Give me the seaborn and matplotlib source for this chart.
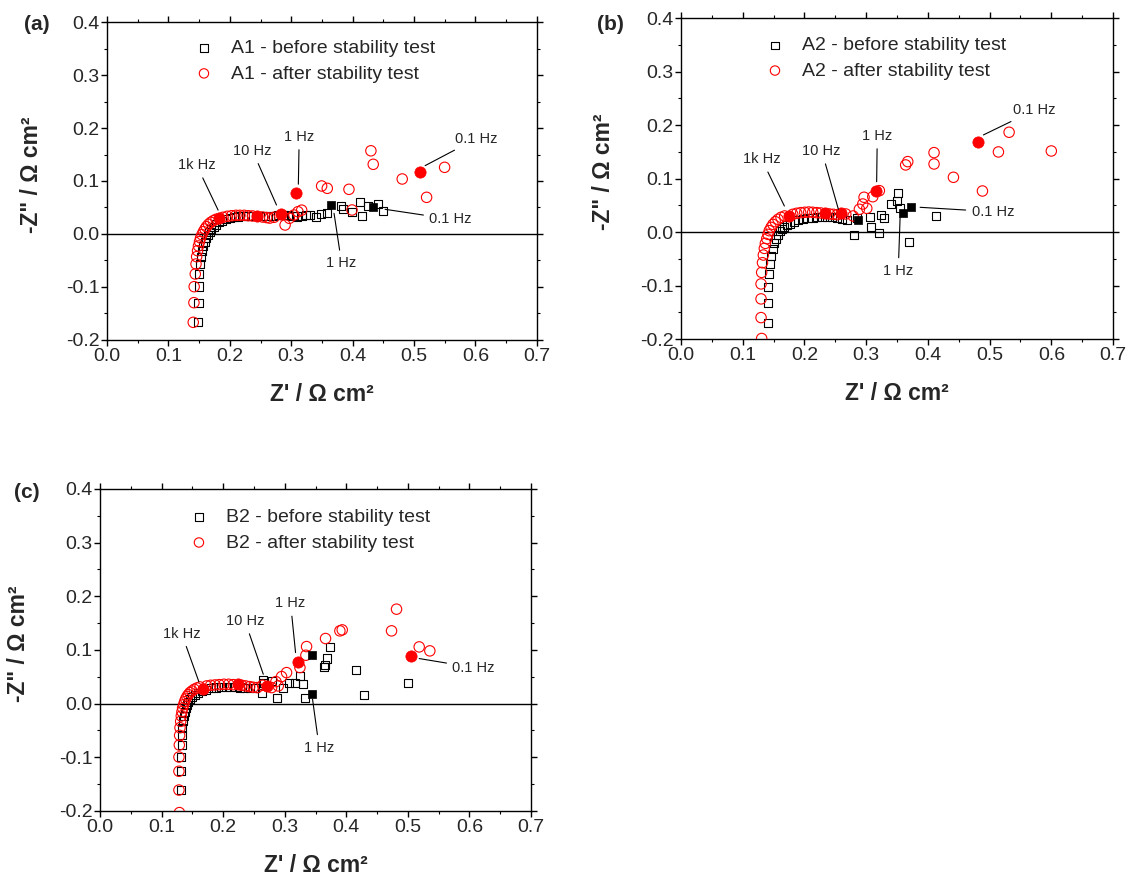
import numpy as np
import pandas as pd
import matplotlib
matplotlib.use("Agg")
import matplotlib.pyplot as plt
from matplotlib.ticker import MultipleLocator, FormatStrFormatter
import seaborn as sns

# ---------------- Impedance data (Z' and -Z'' in ohm cm2) ----------------
# Sample A1
a1_before_re = [0.1486, 0.1490, 0.1497, 0.1505, 0.1520, 0.1535, 0.1550, 0.1570, 0.1590, 0.1610,
                0.1640, 0.1670, 0.1700, 0.1740, 0.1780, 0.1830, 0.1880, 0.1940, 0.2000, 0.2070,
                0.2140, 0.2220, 0.2300, 0.2380, 0.2460, 0.2540, 0.2620, 0.2700, 0.2780, 0.2860,
                0.2940, 0.3020, 0.3100, 0.3180, 0.3234, 0.3300, 0.3397, 0.3484, 0.3587, 0.3810,
                0.3847, 0.3994, 0.4120, 0.4157, 0.4254, 0.4417, 0.4498]
a1_before_im = [-0.1667, -0.1300, -0.0990, -0.0755, -0.0570, -0.0430, -0.0320, -0.0230, -0.0150, -0.0080,
                -0.0020, 0.0040, 0.0090, 0.0140, 0.0180, 0.0220, 0.0250, 0.0280, 0.0300, 0.0320,
                0.0330, 0.0340, 0.0340, 0.0340, 0.0340, 0.0340, 0.0340, 0.0340, 0.0350, 0.0360,
                0.0360, 0.0340, 0.0330, 0.0340, 0.0358, 0.0358, 0.0315, 0.0377, 0.0402, 0.0528,
                0.0466, 0.0420, 0.0610, 0.0340, 0.0528, 0.0566, 0.0440]
a1_after_re = [0.1405, 0.1416, 0.1420, 0.1438, 0.1450, 0.1460, 0.1475, 0.1490, 0.1507, 0.1524,
               0.1546, 0.1570, 0.1595, 0.1620, 0.1654, 0.1690, 0.1730, 0.1775, 0.1890, 0.1960,
               0.2030, 0.2100, 0.2165, 0.2235, 0.2300, 0.2370, 0.2535, 0.2600, 0.2650, 0.2720,
               0.2900, 0.2970, 0.3044, 0.3110, 0.3170, 0.3495, 0.3587, 0.3940, 0.3990, 0.4297,
               0.4335, 0.4807, 0.5204, 0.5497]
a1_after_im = [-0.1667, -0.1296, -0.0994, -0.0755, -0.0566, -0.0428, -0.0315, -0.0226, -0.0145, -0.0075,
               -0.0013, 0.0044, 0.0094, 0.0138, 0.0183, 0.0220, 0.0250, 0.0277, 0.0315, 0.0334,
               0.0345, 0.0352, 0.0352, 0.0352, 0.0345, 0.0340, 0.0320, 0.0310, 0.0300, 0.0315,
               0.0170, 0.0296, 0.0358, 0.0420, 0.0450, 0.0906, 0.0862, 0.0843, 0.0453, 0.1570,
               0.1315, 0.1038, 0.0692, 0.1258]
# characteristic frequency points (filled symbols)
a1_before_mark_re = [0.3652, 0.4336]
a1_before_mark_im = [0.0553, 0.0516]
a1_after_mark_re = [0.1830, 0.2450, 0.2826, 0.3077, 0.5095]
a1_after_mark_im = [0.0302, 0.0340, 0.0377, 0.0768, 0.1176]

# Sample A2
a2_before_re = [0.1405, 0.1405, 0.1415, 0.1426, 0.1442, 0.1464, 0.1486, 0.1513, 0.1540, 0.1567,
                0.1600, 0.1637, 0.1675, 0.1718, 0.1770, 0.1830, 0.1900, 0.1970, 0.2050, 0.2130,
                0.2210, 0.2290, 0.2370, 0.2450, 0.2530, 0.2615, 0.2685, 0.2804, 0.2847, 0.3063,
                0.3074, 0.3209, 0.3241, 0.3290, 0.3404, 0.3522, 0.3506, 0.3550, 0.3700, 0.4133]
a2_before_im = [-0.1697, -0.1335, -0.1035, -0.0790, -0.0600, -0.0450, -0.0318, -0.0212, -0.0125, -0.0050,
                0.0013, 0.0062, 0.0100, 0.0130, 0.0160, 0.0190, 0.0220, 0.0240, 0.0260, 0.0270,
                0.0280, 0.0280, 0.0280, 0.0280, 0.0270, 0.0237, 0.0225, -0.0056, 0.0268, 0.0275,
                0.0100, -0.0025, 0.0318, 0.0268, 0.0524, 0.0724, 0.0586, 0.0455, -0.0193, 0.0300]
a2_after_re = [0.1307, 0.1297, 0.1297, 0.1297, 0.1307, 0.1320, 0.1334, 0.1350, 0.1367, 0.1390,
               0.1410, 0.1430, 0.1459, 0.1490, 0.1529, 0.1572, 0.1620, 0.1680, 0.1810, 0.1875,
               0.1940, 0.2005, 0.2070, 0.2134, 0.2200, 0.2264, 0.2404, 0.2468, 0.2533, 0.2670,
               0.2788, 0.2890, 0.2945, 0.3010, 0.2966, 0.3107, 0.3214, 0.3640, 0.3674, 0.4100,
               0.4100, 0.4414, 0.4884, 0.5143, 0.5316, 0.6000]
a2_after_im = [-0.1990, -0.1600, -0.1250, -0.0970, -0.0755, -0.0574, -0.0430, -0.0306, -0.0212, -0.0125,
               -0.0044, 0.0025, 0.0087, 0.0143, 0.0193, 0.0237, 0.0275, 0.0300, 0.0331, 0.0350,
               0.0362, 0.0369, 0.0374, 0.0369, 0.0362, 0.0356, 0.0337, 0.0331, 0.0324, 0.0337,
               0.0300, 0.0425, 0.0524, 0.0443, 0.0650, 0.0660, 0.0773, 0.1254, 0.1316, 0.1484,
               0.1272, 0.1023, 0.0767, 0.1497, 0.1865, 0.1515]
a2_before_mark_re = [0.2874, 0.3593, 0.3728]
a2_before_mark_im = [0.0225, 0.0361, 0.0462]
a2_after_mark_re = [0.1745, 0.2334, 0.2598, 0.3160, 0.4808]
a2_after_mark_im = [0.0300, 0.0350, 0.0350, 0.0773, 0.1678]

# Sample B2
b2_before_re = [0.1320, 0.1320, 0.1322, 0.1325, 0.1330, 0.1338, 0.1348, 0.1360, 0.1375, 0.1392,
                0.1412, 0.1436, 0.1465, 0.1500, 0.1540, 0.1590, 0.1650, 0.1720, 0.1800, 0.1880,
                0.1960, 0.2040, 0.2120, 0.2200, 0.2280, 0.2360, 0.2440, 0.2520, 0.2635, 0.2641,
                0.2657, 0.2787, 0.2868, 0.2965, 0.3074, 0.3166, 0.3247, 0.3290, 0.3328, 0.3636,
                0.3653, 0.3680, 0.3734, 0.4156, 0.4286, 0.5000]
b2_before_im = [-0.1610, -0.1260, -0.0995, -0.0771, -0.0591, -0.0448, -0.0330, -0.0230, -0.0149, -0.0081,
                -0.0019, 0.0037, 0.0087, 0.0131, 0.0168, 0.0205, 0.0236, 0.0262, 0.0285, 0.0300,
                0.0310, 0.0315, 0.0315, 0.0310, 0.0300, 0.0295, 0.0290, 0.0290, 0.0205, 0.0442,
                0.0380, 0.0423, 0.0112, 0.0299, 0.0379, 0.0379, 0.0516, 0.0361, 0.0106, 0.0690,
                0.0715, 0.0840, 0.1063, 0.0628, 0.0162, 0.0392]
b2_after_re = [0.1290, 0.1282, 0.1282, 0.1282, 0.1288, 0.1293, 0.1299, 0.1310, 0.1320, 0.1331,
               0.1342, 0.1358, 0.1374, 0.1391, 0.1412, 0.1434, 0.1461, 0.1494, 0.1531, 0.1575,
               0.1623, 0.1732, 0.1797, 0.1867, 0.1937, 0.2013, 0.2089, 0.2165, 0.2300, 0.2365,
               0.2430, 0.2489, 0.2554, 0.2641, 0.2787, 0.2857, 0.2895, 0.2949, 0.3030, 0.3247,
               0.3344, 0.3355, 0.3663, 0.3896, 0.3934, 0.4735, 0.4816, 0.5184, 0.5357]
b2_after_im = [-0.2030, -0.1610, -0.1260, -0.0995, -0.0771, -0.0591, -0.0448, -0.0330, -0.0230, -0.0149,
               -0.0081, -0.0019, 0.0037, 0.0087, 0.0131, 0.0168, 0.0205, 0.0236, 0.0267, 0.0292,
               0.0311, 0.0330, 0.0342, 0.0348, 0.0354, 0.0361, 0.0361, 0.0354, 0.0342, 0.0330,
               0.0317, 0.0305, 0.0299, 0.0342, 0.0299, 0.0410, 0.0330, 0.0504, 0.0578, 0.0672,
               0.0902, 0.1063, 0.1213, 0.1356, 0.1374, 0.1356, 0.1760, 0.1057, 0.0983]
b2_before_mark_re = [0.3436, 0.3442]
b2_before_mark_im = [0.0902, 0.0180]
b2_after_mark_re = [0.1667, 0.2235, 0.2706, 0.3220, 0.5059]
b2_after_mark_im = [0.0274, 0.0361, 0.0323, 0.0771, 0.0889]

# Frequency labels: (text, end of leader line, text position, alignment)
a1_notes = [("1k Hz", (0.181, 0.045), (0.146, 0.130), "center"),
            ("10 Hz", (0.276, 0.0547), (0.237, 0.157), "center"),
            ("1 Hz", (0.3116, 0.094), (0.313, 0.1836), "center"),
            ("0.1 Hz", (0.518, 0.129), (0.567, 0.180), "left"),
            ("0.1 Hz", (0.4528, 0.0466), (0.525, 0.028), "left"),
            ("1 Hz", (0.3697, 0.039), (0.382, -0.055), "center")]
a2_notes = [("1k Hz", (0.1675, 0.0486), (0.1307, 0.136), "center"),
            ("10 Hz", (0.255, 0.0425), (0.228, 0.1515), "center"),
            ("1 Hz", (0.317, 0.094), (0.318, 0.180), "center"),
            ("0.1 Hz", (0.490, 0.1815), (0.5386, 0.228), "left"),
            ("0.1 Hz", (0.3874, 0.0462), (0.471, 0.038), "left"),
            ("1 Hz", (0.355, 0.0275), (0.352, -0.0724), "center")]
b2_notes = [("1k Hz", (0.1607, 0.0404), (0.1326, 0.1306), "center"),
            ("10 Hz", (0.2652, 0.0547), (0.2354, 0.1542), "center"),
            ("1 Hz", (0.3176, 0.0951), (0.3095, 0.1872), "center"),
            ("0.1 Hz", (0.5184, 0.084), (0.5725, 0.0672), "left"),
            ("1 Hz", (0.3452, 0.0081), (0.356, -0.082), "center")]

# ---------------- Style ----------------
sns.set_style("ticks")
plt.rcParams["font.family"] = ["Liberation Sans", "DejaVu Sans"]
plt.rcParams["axes.unicode_minus"] = False
plt.rcParams["axes.linewidth"] = 1.0

fig = plt.figure(figsize=(11.39, 8.84), dpi=100)


def to_frame(re, im):
    return pd.DataFrame({"Zre": re, "Zim": im})


def draw_panel(ax, name, b_re, b_im, a_re, a_im, bm_re, bm_im, am_re, am_im, notes,
               legend_anchor, ylabel_x):
    ax.axhline(0, color="black", lw=1.0, zorder=1)
    sns.scatterplot(data=to_frame(b_re, b_im), x="Zre", y="Zim", ax=ax, marker="s", s=34,
                    color="black", facecolor="none", edgecolor="black", linewidth=0.8,
                    label=f"{name} - before stability test", zorder=3)
    sns.scatterplot(data=to_frame(a_re, a_im), x="Zre", y="Zim", ax=ax, marker="o", s=56,
                    color="red", facecolor="none", edgecolor="red", linewidth=0.8,
                    label=f"{name} - after stability test", zorder=4)
    sns.scatterplot(data=to_frame(bm_re, bm_im), x="Zre", y="Zim", ax=ax, marker="s", s=40,
                    color="black", edgecolor="black", linewidth=0.5, zorder=5, legend=False)
    sns.scatterplot(data=to_frame(am_re, am_im), x="Zre", y="Zim", ax=ax, marker="o", s=66,
                    color="red", edgecolor="red", linewidth=0.5, zorder=6, legend=False)

    for text, end, pos, ha in notes:
        ax.annotate(text, xy=end, xytext=pos, ha=ha, va="center", fontsize=10.5,
                    arrowprops=dict(arrowstyle="-", color="black", lw=0.8,
                                    shrinkA=2, shrinkB=0),
                    zorder=7)

    ax.set_xlim(0, 0.7)
    ax.set_ylim(-0.2, 0.4)
    ax.xaxis.set_major_locator(MultipleLocator(0.1))
    ax.xaxis.set_minor_locator(MultipleLocator(0.05))
    ax.yaxis.set_major_locator(MultipleLocator(0.1))
    ax.yaxis.set_minor_locator(MultipleLocator(0.05))
    ax.xaxis.set_major_formatter(FormatStrFormatter("%.1f"))
    ax.yaxis.set_major_formatter(FormatStrFormatter("%.1f"))
    ax.tick_params(which="both", direction="out", top=True, right=True,
                   labelsize=14, pad=1.5, color="black")
    ax.tick_params(which="major", length=4, width=1)
    ax.tick_params(which="minor", length=2.5, width=0.8)
    for sp in ax.spines.values():
        sp.set_visible(True)
        sp.set_color("black")
        sp.set_linewidth(1.0)

    ax.set_xlabel("Z' / \u03a9 cm\u00b2", fontsize=16.5, fontweight="bold")
    ax.set_ylabel('-Z" / \u03a9 cm\u00b2', fontsize=16.5, fontweight="bold")
    ax.xaxis.set_label_coords(0.5, -0.135)
    ax.yaxis.set_label_coords(ylabel_x, 0.52)

    handles, labels = ax.get_legend_handles_labels()
    ax.legend(handles[:2], labels[:2], loc="upper left", bbox_to_anchor=legend_anchor,
              frameon=False, fontsize=14, handlelength=1.0, handletextpad=0.9,
              labelspacing=0.4, borderpad=0, borderaxespad=0, scatterpoints=1,
              markerscale=0.9)


ax_a = fig.add_axes([0.0939, 0.6154, 0.3775, 0.3597])
ax_b = fig.add_axes([0.5979, 0.6165, 0.3793, 0.3631])
ax_c = fig.add_axes([0.0878, 0.0826, 0.3784, 0.3643])

draw_panel(ax_a, "A1", a1_before_re, a1_before_im, a1_after_re, a1_after_im,
           a1_before_mark_re, a1_before_mark_im, a1_after_mark_re, a1_after_mark_im,
           a1_notes, (0.203, 0.945), -0.149)
draw_panel(ax_b, "A2", a2_before_re, a2_before_im, a2_after_re, a2_after_im,
           a2_before_mark_re, a2_before_mark_im, a2_after_mark_re, a2_after_mark_im,
           a2_notes, (0.195, 0.942), -0.153)
draw_panel(ax_c, "B2", b2_before_re, b2_before_im, b2_after_re, b2_after_im,
           b2_before_mark_re, b2_before_mark_im, b2_after_mark_re, b2_after_mark_im,
           b2_notes, (0.207, 0.939), -0.162)

# Panel tags
for tag, x, y in [("(a)", 37, 25), ("(b)", 610, 24), ("(c)", 27, 493)]:
    fig.text(x / 1139, 1 - y / 884, tag, fontsize=15, fontweight="bold",
             ha="center", va="center")

fig.savefig("out.png", dpi=100)
